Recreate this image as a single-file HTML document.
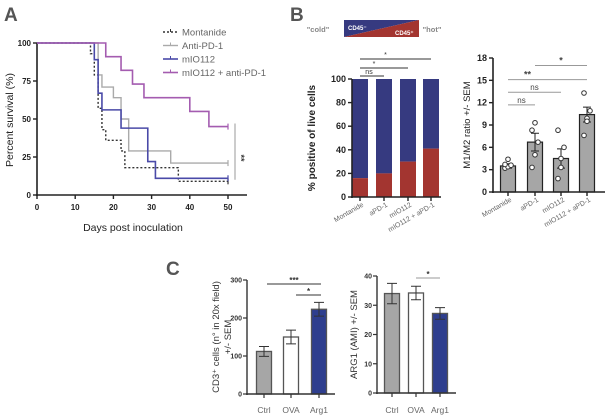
<!DOCTYPE html>
<html><head><meta charset="utf-8"><style>
body{margin:0;background:#fff}
svg{display:block;font-family:"Liberation Sans",Arial,sans-serif}
</style></head><body>
<svg id="s" width="606" height="417" viewBox="0 0 606 417">
<text x="4" y="21" font-size="19" font-weight="bold" fill="#555">A</text>
<text x="290" y="21" font-size="19" font-weight="bold" fill="#555">B</text>
<text x="166" y="275" font-size="19" font-weight="bold" fill="#555">C</text>
<g id="A"></g>
<g id="B1"></g>
<g id="B2"></g>
<g id="C1"></g>
<g id="C2"></g>
</svg>
<script>
// ---- data ----
const survTicksX=[0,10,20,30,40,50];
const survTicksY=[0,25,50,75,100];
const montanide=[[0,100],[14,93],[15,79],[16,57],[17,43],[18,36],[22,29],[23,18],[37,9],[50,9]];
const antiPD1=[[0,100],[16,79],[17,71],[20,64],[22,50],[24,29],[35,21],[50,21]];
const mIO112=[[0,100],[15,89],[16,67],[17,56],[22,44],[29,22],[31,11],[50,11]];
const combo=[[0,100],[18,91],[22,82],[25,73],[28,64],[40,55],[45,45],[50,45]];
const survNames=["Montanide","Anti-PD-1","mIO112","mIO112 + anti-PD-1"];
const bCats=["Montanide","aPD-1","mIO112","mIO112 + aPD-1"];
const bRed=[16,20,30,41];
const bTicks=[0,20,40,60,80,100];
const m12=[3.5,6.7,4.5,10.4];
const m12err=[0.3,1.2,1.3,1.0];
const m12pts=[[3.2,3.4,3.6,3.7,4.4],[3.3,5,6.7,8.3,9.3],[1.8,3.3,6,8.3,4.5],[7.6,9.9,10.9,13.3,9.5]];
const m12Ticks=[0,3,6,9,12,15,18];
const cCats=["Ctrl","OVA","Arg1"];
const cd3=[112,150,223];
const cd3err=[13,18,18];
const cd3Ticks=[0,100,200,300];
const arg1=[34,34.2,27.2];
const arg1err=[3.5,2.3,2];
const arg1Ticks=[0,10,20,30,40];

const NS="http://www.w3.org/2000/svg";
function el(p,t,a,txt){const e=document.createElementNS(NS,t);for(const k in a)e.setAttribute(k,a[k]);if(txt!==undefined)e.textContent=txt;p.appendChild(e);return e;}
const lin=(d0,d1,r0,r1)=>v=>r0+(v-d0)/(d1-d0)*(r1-r0);

// ---- A ----
{const g=document.getElementById('A');const x=lin(0,50,37,228),y=lin(0,100,195,43);
let e=el(g,'line',{x1:37,y1:43,x2:37,y2:196,stroke:'#222','stroke-width':1.6});

e=el(g,'line',{x1:36,y1:195,x2:247,y2:195,stroke:'#222','stroke-width':1.6});

survTicksX.forEach(v=>{el(g,'line',{x1:x(v),y1:195,x2:x(v),y2:199,stroke:'#222','stroke-width':1.4});
const t=el(g,'text',{x:x(v),y:210,'font-size':8,'font-weight':'bold','text-anchor':'middle',fill:'#222'},v);
});
survTicksY.forEach(v=>{el(g,'line',{x1:33,y1:y(v),x2:37,y2:y(v),stroke:'#222','stroke-width':1.4});
const t=el(g,'text',{x:31,y:y(v)+3,'font-size':8,'font-weight':'bold','text-anchor':'end',fill:'#222'},v);
});
e=el(g,'text',{x:133,y:231,'font-size':10.5,'text-anchor':'middle',fill:'#222'},'Days post inoculation');

e=el(g,'text',{transform:'translate(13,120) rotate(-90)','font-size':10.5,'text-anchor':'middle',fill:'#222'},'Percent survival (%)');

const series=[[montanide,'#333','2,2',1.4],[antiPD1,'#aaa','',1.4],[mIO112,'#4a4aa8','',1.6],[combo,'#a45cb0','',1.6]];
series.forEach(([d,c,da,w],i)=>{let p='M'+x(d[0][0])+','+y(d[0][1]);
for(let k=1;k<d.length;k++){p+='H'+x(d[k][0])+'V'+y(d[k][1]);}
const ln=el(g,'path',{d:p,fill:'none',stroke:c,'stroke-width':w,'stroke-dasharray':da});

el(g,'line',{x1:x(50),y1:y(d[d.length-1][1])-3,x2:x(50),y2:y(d[d.length-1][1])+3,stroke:c,'stroke-width':1.2});
const ly=32+i*13.5;
el(g,'line',{x1:163,y1:ly,x2:178,y2:ly,stroke:c,'stroke-width':w,'stroke-dasharray':da});
el(g,'line',{x1:170.5,y1:ly-3,x2:170.5,y2:ly,stroke:c,'stroke-width':1});
const lt=el(g,'text',{x:182,y:ly+3.5,'font-size':9.5,fill:'#666'},survNames[i]);
});
el(g,'line',{x1:235,y1:y(47),x2:235,y2:y(10),stroke:'#999','stroke-width':1});
e=el(g,'text',{transform:'translate(238,158) rotate(90)','font-size':9,'font-weight':'bold','text-anchor':'middle',fill:'#333'},'**');
}

// ---- B1 ----
{const g=document.getElementById('B1');const y=lin(0,100,197,79);const xs=[360,384,408,431],w=16;
let e=el(g,'text',{x:318,y:32,'font-size':7.5,'font-weight':'bold',fill:'#888','text-anchor':'middle'},'"cold"');

e=el(g,'text',{x:432,y:32,'font-size':7.5,'font-weight':'bold',fill:'#888','text-anchor':'middle'},'"hot"');

e=el(g,'polygon',{points:'344,20 419,20 344,37',fill:'#363a80'});
e=el(g,'polygon',{points:'419,20 419,37 344,37',fill:'#a33530'});
el(g,'text',{x:348,y:30,'font-size':6,'font-weight':'bold',fill:'#fff'},'CD45⁻');
el(g,'text',{x:395,y:35,'font-size':6,'font-weight':'bold',fill:'#fff'},'CD45⁺');
bRed.forEach((v,i)=>{let r=el(g,'rect',{x:xs[i]-w/2,y:y(100),width:w,height:y(v)-y(100),fill:'#363a80'});

r=el(g,'rect',{x:xs[i]-w/2,y:y(v),width:w,height:y(0)-y(v),fill:'#a33530'});

el(g,'line',{x1:xs[i],y1:197,x2:xs[i],y2:201,stroke:'#222','stroke-width':1.4});
const t=el(g,'text',{transform:`translate(${xs[i]+4},${206}) rotate(-30)`,'font-size':7,'text-anchor':'end',fill:'#666'},bCats[i]);
});
el(g,'line',{x1:352,y1:79,x2:352,y2:198,stroke:'#222','stroke-width':1.6});
el(g,'line',{x1:351,y1:197,x2:441,y2:197,stroke:'#222','stroke-width':1.6});
bTicks.forEach(v=>{el(g,'line',{x1:348,y1:y(v),x2:352,y2:y(v),stroke:'#222','stroke-width':1.4});
const t=el(g,'text',{x:346,y:y(v)+3,'font-size':9,'font-weight':'bold','text-anchor':'end',fill:'#222'},v);
});
e=el(g,'text',{transform:'translate(315,138) rotate(-90)','font-size':10,'font-weight':'bold','text-anchor':'middle',fill:'#222'},'% positive of live cells');

[[0,1,76,'ns'],[0,2,68,'*'],[0,3,59,'*']].forEach(([a,b,yy,s])=>{el(g,'line',{x1:xs[a],y1:yy,x2:xs[b],y2:yy,stroke:'#333','stroke-width':1});
const t=el(g,'text',{x:(xs[a]+xs[b])/2-(s=='ns'?3:10),y:yy-2,'font-size':7,fill:'#333','text-anchor':'middle'},s);
});}

// ---- B2 ----
{const g=document.getElementById('B2');const y=lin(0,18,192,58);const xs=[508,535,561,587],w=15;
m12.forEach((v,i)=>{let r=el(g,'rect',{x:xs[i]-w/2,y:y(v),width:w,height:y(0)-y(v),fill:'#a6a6a6',stroke:'#222','stroke-width':1.2});

el(g,'path',{d:`M${xs[i]},${y(v+m12err[i])}V${y(v-m12err[i])}M${xs[i]-4},${y(v+m12err[i])}h8M${xs[i]-4},${y(v-m12err[i])}h8`,stroke:'#222','stroke-width':1,fill:'none'});
m12pts[i].forEach((p,k)=>{const c=el(g,'circle',{cx:xs[i]+(k%3-1)*3,cy:y(p),r:2.3,fill:'#fff',stroke:'#333','stroke-width':1});
});
el(g,'line',{x1:xs[i],y1:192,x2:xs[i],y2:196,stroke:'#222','stroke-width':1.4});
const t=el(g,'text',{transform:`translate(${xs[i]+4},${201}) rotate(-30)`,'font-size':7,'text-anchor':'end',fill:'#666'},bCats[i]);
});
el(g,'line',{x1:493,y1:58,x2:493,y2:193,stroke:'#222','stroke-width':1.6});
el(g,'line',{x1:492,y1:192,x2:605,y2:192,stroke:'#222','stroke-width':1.6});
m12Ticks.forEach(v=>{el(g,'line',{x1:489,y1:y(v),x2:493,y2:y(v),stroke:'#222','stroke-width':1.4});
const t=el(g,'text',{x:487,y:y(v)+3,'font-size':9,'font-weight':'bold','text-anchor':'end',fill:'#222'},v);
});
let e=el(g,'text',{transform:'translate(470,125) rotate(-90)','font-size':9.5,'text-anchor':'middle',fill:'#222'},'M1/M2 ratio +/- SEM');

[[0,1,11.7,'ns'],[0,2,13.4,'ns'],[0,3,15.1,'**'],[1,3,17,'*']].forEach(([a,b,v,s])=>{el(g,'line',{x1:xs[a],y1:y(v),x2:xs[b],y2:y(v),stroke:'#999','stroke-width':1});
const t=el(g,'text',{x:(xs[a]+xs[b])/2-(s=='**'?20:0),y:y(v)-2,'font-size':s=='ns'?8:9,'font-weight':s=='ns'?'normal':'bold',fill:'#444','text-anchor':'middle'},s);
});}

// ---- C ----
function cChart(id,vals,errs,ticks,max,ax,y0,ytop,xs,xEnd,title,brackets,col){
const g=document.getElementById(id);const y=lin(0,max,y0,ytop);const fills=['#a6a6a6','#fff','#2e3e8e'],w=15;
vals.forEach((v,i)=>{let r=el(g,'rect',{x:xs[i]-w/2,y:y(v),width:w,height:y0-y(v),fill:fills[i],stroke:'#555','stroke-width':1.3});

el(g,'path',{d:`M${xs[i]},${y(v+errs[i])}V${y(v-errs[i])}M${xs[i]-5},${y(v+errs[i])}h10M${xs[i]-5},${y(v-errs[i])}h10`,stroke:'#333','stroke-width':1,fill:'none'});
el(g,'line',{x1:xs[i],y1:y0,x2:xs[i],y2:y0+4,stroke:'#333','stroke-width':1.2});
const t=el(g,'text',{x:xs[i],y:413,'font-size':8.5,'text-anchor':'middle',fill:'#666'},cCats[i]);
});
el(g,'line',{x1:ax,y1:ytop,x2:ax,y2:y0+1,stroke:'#333','stroke-width':1.4});
el(g,'line',{x1:ax-1,y1:y0,x2:xEnd,y2:y0,stroke:'#333','stroke-width':1.4});
ticks.forEach(v=>{el(g,'line',{x1:ax-4,y1:y(v),x2:ax,y2:y(v),stroke:'#333','stroke-width':1.2});
const t=el(g,'text',{x:ax-5,y:y(v)+2.5,'font-size':7,'font-weight':'bold','text-anchor':'end',fill:'#333'},v);
});
title.forEach(([tx,xx])=>{const t=el(g,'text',{transform:`translate(${xx},${(y0+ytop)/2}) rotate(-90)`,'font-size':9.5,'text-anchor':'middle',fill:'#333'},tx);
});
brackets.forEach(([a,b,yy,s])=>{el(g,'line',{x1:a,y1:yy,x2:b,y2:yy,stroke:col,'stroke-width':1});
const t=el(g,'text',{x:(a+b)/2,y:yy-1,'font-size':8,'font-weight':'bold','text-anchor':'middle',fill:'#333'},s);
});}
cChart('C1',cd3,cd3err,cd3Ticks,300,247,394,280,[264,291,319],335,[['CD3⁺ cells (n° in 20x field)',219],['+/- SEM',231]],[[267,321,284,'***'],[296,321,295,'*']],'#333');
cChart('C2',arg1,arg1err,arg1Ticks,40,377,393,276,[392,416,440],456,[['ARG1 (AMI) +/- SEM',357]],[[416,440,278,'*']],'#999');
</script>
</body></html>
